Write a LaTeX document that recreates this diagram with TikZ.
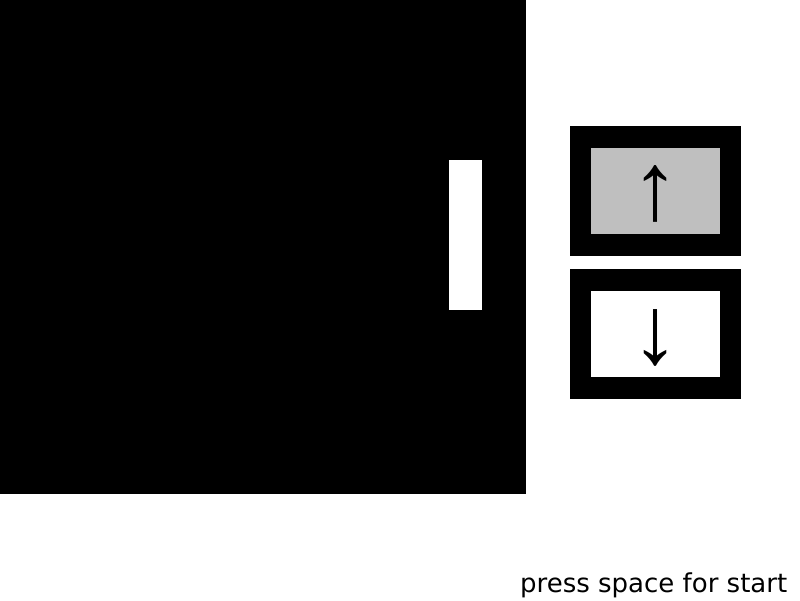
\documentclass[tikz,border=0pt]{standalone}
\usepackage{fontspec}
\setmainfont{DejaVu Sans}
\newfontfamily\arrowfont{Liberation Sans}
\begin{document}
\begin{tikzpicture}[x=1pt,y=-1pt,
  blackfill/.style={fill=black,draw=none},
  btnframe/.style={fill=black,draw=none},
  arrowtxt/.style={inner sep=0pt,font=\arrowfont\fontsize{96}{96}\selectfont},
  caption/.style={inner sep=0pt,font=\fontsize{26}{30}\selectfont}]
\useasboundingbox (0,0) rectangle (800,600);
\fill[white] (0,0) rectangle (800,600);
% field
\path[blackfill] (0,0) rectangle (526,494);
\path[fill=white] (449,160) rectangle (482,310);
% up button
\path[btnframe] (570,126) rectangle (741,256);
\path[fill={rgb,255:red,191;green,191;blue,191}] (591,148) rectangle (720,234);
\node[arrowtxt] (up) at (655,194) {↑};
% down button
\path[btnframe] (570,269) rectangle (741,399);
\path[fill=white] (591,291) rectangle (720,377);
\node[arrowtxt] (down) at (655,338) {↓};
% caption
\node[caption,anchor=base west] (cap) at (520,592) {press space for start};
\end{tikzpicture}
\end{document}
